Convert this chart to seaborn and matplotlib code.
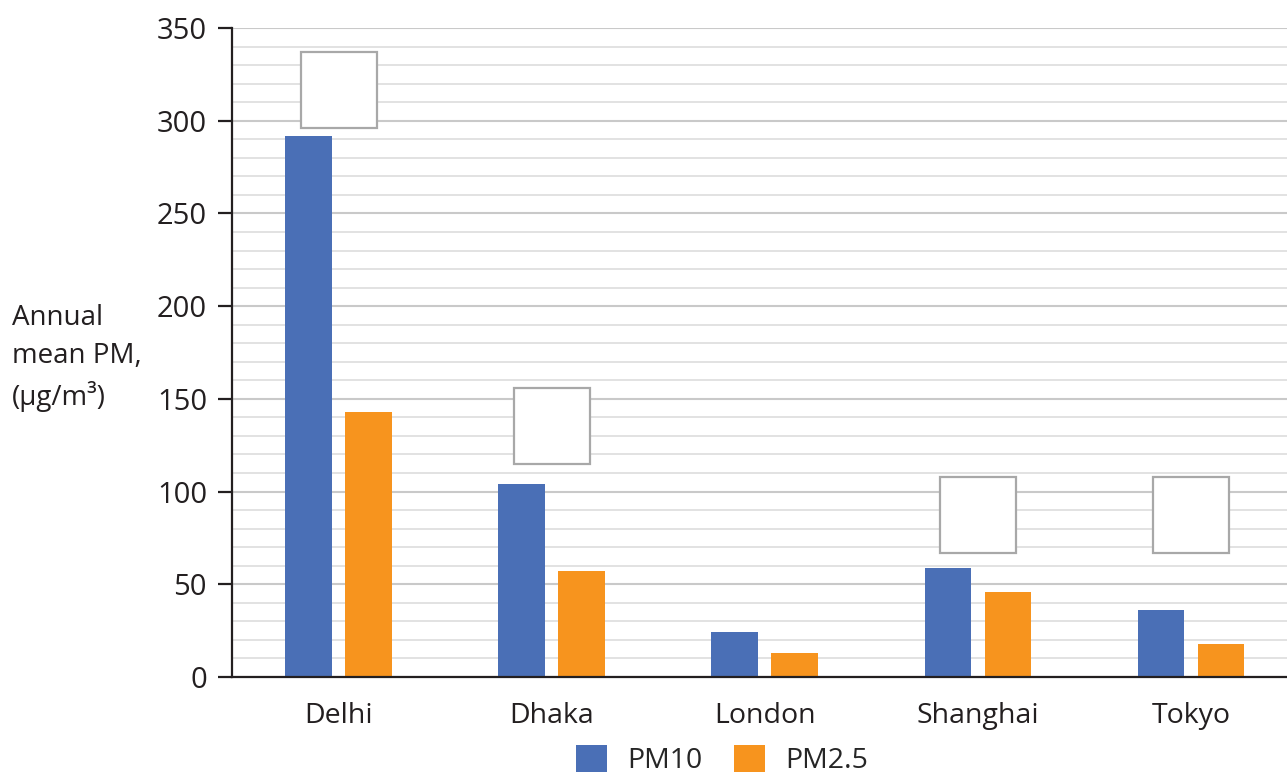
#Annual mean PM by city, bar chart recreation

import pandas as pd
import seaborn as sns
import matplotlib.pyplot as plt
from matplotlib.patches import Rectangle
from matplotlib.ticker import MultipleLocator

# chart data
cities = ['Delhi', 'Dhaka', 'London', 'Shanghai', 'Tokyo']
pm10 = [292, 104, 24, 59, 36]
pm25 = [143, 57, 13, 46, 18]
series_names = ['PM10', 'PM2.5']
y_ticks = [0, 50, 100, 150, 200, 250, 300, 350]
# empty answer boxes drawn above some cities (bottom value of each box, None = no box)
box_bottoms = [296, 115, None, 67, 67]

blue = '#4A6FB6'
orange = '#F7941E'
dark = '#231F20'

data = pd.DataFrame({
    'city': cities * 2,
    'pollutant': [series_names[0]] * len(cities) + [series_names[1]] * len(cities),
    'value': pm10 + pm25,
})

sns.set_style("white")
plt.rcParams['font.family'] = ['Open Sans', 'DejaVu Sans']

fig = plt.figure(figsize=(12.87, 7.74), dpi=100)
ax = fig.add_axes([232 / 1287, 1 - 677 / 774, 1 - 232 / 1287, (677 - 28) / 774])

ax = sns.barplot(data=data, x='city', y='value', hue='pollutant', order=cities,
                 hue_order=series_names, palette=[blue, orange], saturation=1,
                 width=0.563, gap=0.22, linewidth=0, ax=ax, zorder=3)

ax.set_ylim(0, 350)
ax.set_xlim(-0.5, 4.45)
ax.set_yticks(y_ticks)
ax.yaxis.set_minor_locator(MultipleLocator(10))
ax.grid(which='minor', axis='y', color='#DADADA', linewidth=1.1, zorder=0)
ax.grid(which='major', axis='y', color='#C9C9C9', linewidth=1.5, zorder=0)
ax.set_axisbelow(True)

for side in ['top', 'right']:
    ax.spines[side].set_visible(False)
for side in ['left', 'bottom']:
    ax.spines[side].set_color(dark)
    ax.spines[side].set_linewidth(1.6)
    ax.spines[side].set_zorder(5)

ax.tick_params(axis='y', which='major', length=10, width=1.6, color=dark, pad=8,
               labelsize=21, labelcolor=dark, left=True)
ax.tick_params(axis='y', which='minor', length=0)
ax.tick_params(axis='x', length=0, pad=18, labelsize=20.5, labelcolor=dark)
ax.set_xlabel('')
ax.set_ylabel('')

# empty boxes
for i, b in enumerate(box_bottoms):
    if b is None:
        continue
    ax.add_patch(Rectangle((i - 0.178, b), 0.356, 41, facecolor='white',
                           edgecolor='#A8A8A8', linewidth=1.6, zorder=4))

fig.text(12 / 1287, 1 - 358 / 774, 'Annual\nmean PM,\n(µg/m³)', ha='left', va='center',
         fontsize=20, color=dark, linespacing=1.45)

sns.move_legend(ax, 'center', bbox_to_anchor=((722 - 232) / 1055, (677 - 760) / 649),
                ncol=2, frameon=False, title=None, fontsize=20.5,
                handlelength=1.1, handleheight=1.1, handletextpad=0.7,
                columnspacing=1.1)

fig.savefig('out.png', dpi=100)
